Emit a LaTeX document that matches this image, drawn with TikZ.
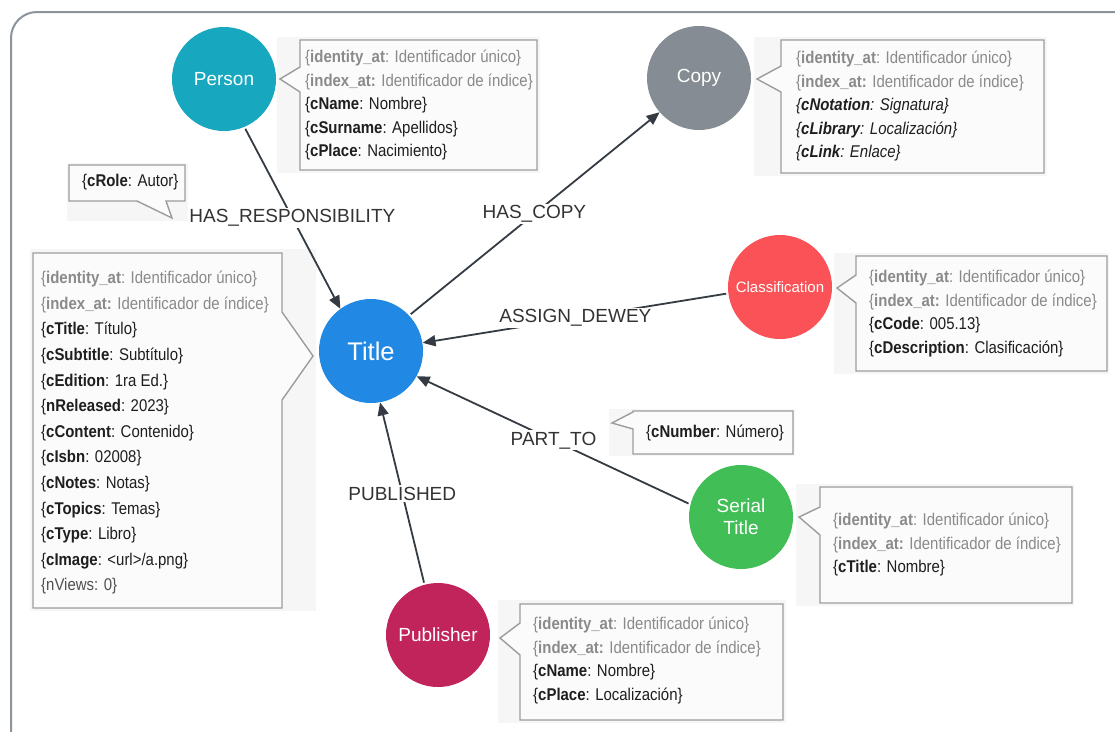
\documentclass[tikz,border=0pt]{standalone}
\usepackage{fontspec}
\setmainfont{Liberation Sans}
\newfontfamily\propfont[FakeStretch=0.88]{Liberation Sans}
\usetikzlibrary{arrows.meta}

\definecolor{framecol}{HTML}{8C939B}
\definecolor{edgecol}{HTML}{343B42}
\definecolor{labelcol}{HTML}{333333}
\definecolor{boxline}{HTML}{9C9C9C}
\definecolor{boxfill}{HTML}{FBFBFB}
\definecolor{backfill}{HTML}{F6F6F6}
\definecolor{propgray}{HTML}{8A8A8A}
\definecolor{propblack}{HTML}{1E1E1E}
\definecolor{propdim}{HTML}{505050}
\definecolor{cPerson}{HTML}{17A8BF}
\definecolor{cCopy}{HTML}{858C93}
\definecolor{cTitle}{HTML}{2188E3}
\definecolor{cClass}{HTML}{FA5256}
\definecolor{cSerial}{HTML}{42BE57}
\definecolor{cPublisher}{HTML}{C1245A}

% property lines: grey system keys, black data keys, italic copy keys
\newcommand{\pg}[2]{{\color{propgray}\{\textbf{#1}: #2\}}}
\newcommand{\pgb}[2]{{\color{propgray}\{\textbf{#1:} #2\}}}
\newcommand{\pk}[2]{\{\textbf{#1}: #2\}}
\newcommand{\pki}[2]{\textit{\{\textbf{#1}: #2\}}}

\tikzset{
  entity/.style={circle, minimum size=104pt, inner sep=0pt, text=white},
  callout/.style={draw=boxline, fill=boxfill, line width=1.4pt, line join=miter},
  backdrop/.style={fill=backfill},
  proptext/.style={anchor=north west, inner sep=0pt, align=left, text=propblack,
    font=\propfont\fontsize{17}{23.5}\selectfont},
  relation/.style={draw=edgecol, line width=1.8pt, shorten <=2pt,
    -{Triangle[length=13pt,width=11pt]}},
  rellabel/.style={fill=white, inner sep=1.5pt, text=labelcol,
    font=\fontsize{19}{19}\selectfont},
}

\begin{document}
\begin{tikzpicture}[x=1pt, y=-1pt]
\useasboundingbox (0,0) rectangle (1115,731);

% outer frame
\begin{scope}
  \clip (0,0) rectangle (1115,731);
  \draw[framecol, line width=2pt, rounded corners=26pt] (11,12) rectangle (1140,760);
\end{scope}

% ---- entities
\node[entity, fill=cPerson, font=\fontsize{19}{19}\selectfont] (person) at (224,79) {Person};
\node[entity, fill=cCopy, font=\fontsize{19}{19}\selectfont] (copy) at (699,78) {Copy};
\node[entity, fill=cTitle, font=\fontsize{25.5}{25.5}\selectfont] (title) at (371,351) {Title};
\node[entity, fill=cClass, font=\fontsize{15}{15}\selectfont] (class) at (780,287) {Classification};
\node[entity, fill=cSerial, align=center, font=\fontsize{19}{22}\selectfont] (serial) at (741,517) {Serial\\Title};
\node[entity, fill=cPublisher, font=\fontsize{19}{19}\selectfont] (publisher) at (438,635) {Publisher};

% ---- property callouts
% Person
\fill[backdrop] (277,37) rectangle (540,173);
\draw[callout] (300,40) -- (537,40) -- (537,170) -- (300,170) -- (300,92) -- (280,79) -- (300,67) -- cycle;
\node[proptext] (personprops) at (305,50)
  {\pg{identity\_at}{Identificador único}\\
   \pgb{index\_at}{Identificador de índice}\\
   \pk{cName}{Nombre}\\
   \pk{cSurname}{Apellidos}\\
   \pk{cPlace}{Nacimiento}};

% Copy
\fill[backdrop] (754,37) rectangle (1047,176);
\draw[callout] (781,40) -- (1044,40) -- (1044,173) -- (781,173) -- (781,92) -- (757,79) -- (781,66) -- cycle;
\node[proptext] (copyprops) at (796,51)
  {\pg{identity\_at}{Identificador único}\\
   \pgb{index\_at}{Identificador de índice}\\
   \pki{cNotation}{Signatura}\\
   \pki{cLibrary}{Localización}\\
   \pki{cLink}{Enlace}};

% Title
\fill[backdrop] (30,249) rectangle (316,611);
\draw[callout] (33,253) -- (282,253) -- (282,312) -- (313,356) -- (282,400) -- (282,608) -- (33,608) -- cycle;
\node[proptext, font=\propfont\fontsize{17}{25.6}\selectfont] (titleprops) at (41,271)
  {\pg{identity\_at}{Identificador único}\\
   \pgb{index\_at}{Identificador de índice}\\
   \pk{cTitle}{Título}\\
   \pk{cSubtitle}{Subtítulo}\\
   \pk{cEdition}{1ra Ed.}\\
   \pk{nReleased}{2023}\\
   \pk{cContent}{Contenido}\\
   \pk{cIsbn}{02008}\\
   \pk{cNotes}{Notas}\\
   \pk{cTopics}{Temas}\\
   \pk{cType}{Libro}\\
   \pk{cImage}{<url>/a.png}\\
   {\color{propdim}\{nViews: 0\}}};

% Classification
\fill[backdrop] (834,253) rectangle (1109,374);
\draw[callout] (856,256) -- (1107,256) -- (1107,371) -- (856,371) -- (856,303) -- (837,288) -- (856,275) -- cycle;
\node[proptext] (classprops) at (869,270)
  {\pg{identity\_at}{Identificador único}\\
   \pgb{index\_at}{Identificador de índice}\\
   \pk{cCode}{005.13}\\
   \pk{cDescription}{Clasificación}};

% Serial Title
\fill[backdrop] (796,484) rectangle (1074,606);
\draw[callout] (820,487) -- (1072,487) -- (1072,603) -- (820,603) -- (820,535) -- (799,517) -- (820,507) -- cycle;
\node[proptext] (serialprops) at (833,513)
  {\pg{identity\_at}{Identificador único}\\
   \pgb{index\_at}{Identificador de índice}\\
   \pk{cTitle}{Nombre}};

% Publisher
\fill[backdrop] (498,600) rectangle (786,723);
\draw[callout] (520,604) -- (783,604) -- (783,720) -- (520,720) -- (520,655) -- (500,638) -- (520,623) -- cycle;
\node[proptext] (pubprops) at (533,617)
  {\pg{identity\_at}{Identificador único}\\
   \pgb{index\_at}{Identificador de índice}\\
   \pk{cName}{Nombre}\\
   \pk{cPlace}{Localización}};

% relation properties
\fill[backdrop] (609,409) rectangle (795,456);
\draw[callout] (633,411) -- (793,411) -- (793,454) -- (633,454) -- (633,429) -- (612,423) -- (633,412) -- cycle;
\node[proptext, anchor=west] (numprops) at (646,433) {\pk{cNumber}{Número}};

\fill[backdrop] (67,163) rectangle (188,221);
\draw[callout] (69,165) -- (185,165) -- (185,201) -- (166,201) -- (172,218) -- (137,201) -- (69,201) -- cycle;
\node[proptext, anchor=west] (roleprops) at (82,182) {\pk{cRole}{Autor}};

% ---- relations
\draw[relation] (person.-67) -- (title.126)
  node[rellabel, pos=.5] (lresp) {HAS\_RESPONSIBILITY};
\draw[relation] (title.43) -- (copy.221)
  node[rellabel, pos=.5] (lcopy) {HAS\_COPY};
\draw[relation] (class.187) -- (title.9)
  node[rellabel, pos=.5] (ldewey) {ASSIGN\_DEWEY};
\draw[relation] (serial.166) -- (title.-29)
  node[rellabel, pos=.5] (lpart) {PART\_TO};
\draw[relation] (publisher.105) -- (title.-80)
  node[rellabel, pos=.5] (lpub) {PUBLISHED};
\end{tikzpicture}
\end{document}
